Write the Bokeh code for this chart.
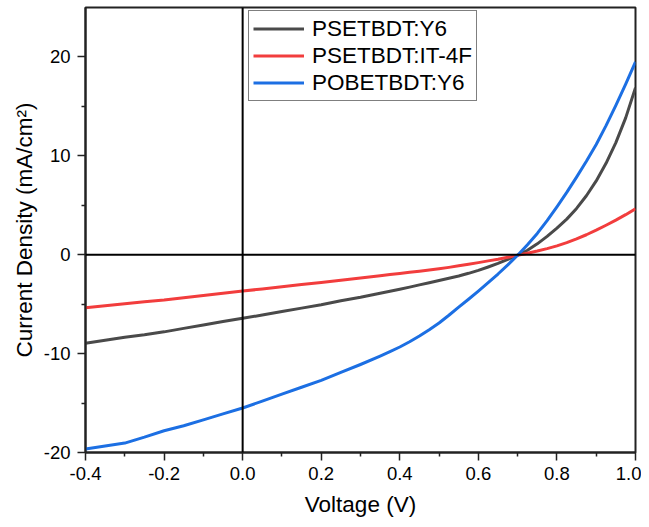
from bokeh.plotting import figure
from bokeh.models import Range1d, FixedTicker, Span, Legend, LegendItem
from bokeh.embed import file_html
from bokeh.resources import INLINE

voltage = [-0.40, -0.35, -0.30, -0.25, -0.20, -0.15, -0.10, -0.05, 0.00, 0.05,
           0.10, 0.15, 0.20, 0.25, 0.30, 0.35, 0.375, 0.40, 0.425, 0.45,
           0.475, 0.50, 0.525, 0.55, 0.575, 0.60, 0.625, 0.65, 0.675, 0.70,
           0.725, 0.75, 0.775, 0.80, 0.825, 0.85, 0.875, 0.90, 0.925, 0.95,
           0.975, 1.00]

psetbdt_y6 = [-8.95, -8.65, -8.35, -8.10, -7.80, -7.45, -7.10, -6.75, -6.43, -6.10,
              -5.75, -5.40, -5.05, -4.65, -4.30, -3.90, -3.70, -3.50, -3.28, -3.05,
              -2.83, -2.60, -2.38, -2.15, -1.88, -1.58, -1.24, -0.88, -0.48, -0.05,
              0.45, 1.10, 1.85, 2.70, 3.60, 4.68, 5.96, 7.46, 9.24, 11.34,
              13.84, 16.90]

psetbdt_it4f = [-5.36, -5.15, -4.95, -4.75, -4.58, -4.35, -4.12, -3.90, -3.68, -3.46,
                -3.24, -3.02, -2.80, -2.57, -2.35, -2.12, -2.01, -1.90, -1.78, -1.66,
                -1.54, -1.42, -1.28, -1.12, -0.96, -0.80, -0.62, -0.45, -0.25, -0.05,
                0.15, 0.37, 0.62, 0.90, 1.22, 1.60, 2.02, 2.48, 2.98, 3.50,
                4.05, 4.65]

pobetbdt_y6 = [-19.65, -19.35, -19.05, -18.45, -17.80, -17.30, -16.70, -16.10, -15.50, -14.80,
               -14.10, -13.40, -12.70, -11.90, -11.10, -10.25, -9.80, -9.33, -8.80, -8.22,
               -7.58, -6.90, -6.12, -5.30, -4.50, -3.68, -2.83, -1.95, -1.03, -0.05,
               1.00, 2.15, 3.45, 4.85, 6.30, 7.85, 9.45, 11.15, 13.05, 15.10,
               17.25, 19.50]

series_names = ["PSETBDT:Y6", "PSETBDT:IT-4F", "POBETBDT:Y6"]
series_colors = ["#4a4a4a", "#f23d3d", "#1c6fe3"]

x_major = [-0.4, -0.2, 0.0, 0.2, 0.4, 0.6, 0.8, 1.0]
x_minor = [-0.3, -0.1, 0.1, 0.3, 0.5, 0.7, 0.9]
y_major = [-20, -10, 0, 10, 20]
y_minor = [-15, -5, 5, 15]

FONT = "Liberation Sans"

p = figure(width=641, height=519, output_backend="svg", toolbar_location=None,
           x_range=Range1d(-0.4, 1.0), y_range=Range1d(-20, 25),
           min_border_left=85, min_border_right=6, min_border_top=7, min_border_bottom=67)

p.xgrid.visible = False
p.ygrid.visible = False
p.outline_line_color = "#222222"
p.outline_line_width = 2
p.outline_line_alpha = 1.0

p.xaxis.ticker = FixedTicker(ticks=x_major, minor_ticks=x_minor)
p.yaxis.ticker = FixedTicker(ticks=y_major, minor_ticks=y_minor)
p.xaxis.major_label_overrides = {v: f"{v:.1f}" for v in x_major}
p.yaxis.major_label_overrides = {v: f"{v}" for v in y_major}

for ax in (p.xaxis[0], p.yaxis[0]):
    ax.axis_line_width = 2
    ax.axis_line_color = "#222222"
    ax.major_tick_line_width = 1.5
    ax.minor_tick_line_width = 1.5
    ax.major_tick_line_color = "#222222"
    ax.minor_tick_line_color = "#222222"
    ax.major_tick_out = 8
    ax.major_tick_in = 0
    ax.minor_tick_out = 4
    ax.minor_tick_in = 0
    ax.major_label_text_font = FONT
    ax.major_label_text_font_size = "18.5px"
    ax.major_label_text_color = "black"
    ax.axis_label_text_font = FONT
    ax.axis_label_text_font_size = "22.5px"
    ax.axis_label_text_font_style = "normal"
    ax.axis_label_text_color = "black"

p.xaxis.axis_label = "Voltage (V)"
p.yaxis.axis_label = "Current Density (mA/cm²)"
p.xaxis.major_label_standoff = 6
p.yaxis.major_label_standoff = 7
p.xaxis.axis_label_standoff = 9
p.yaxis.axis_label_standoff = 4

p.add_layout(Span(location=0, dimension="width", line_color="black", line_width=2))
p.add_layout(Span(location=0, dimension="height", line_color="black", line_width=2))

renderers = []
for ys, col in zip([psetbdt_y6, psetbdt_it4f, pobetbdt_y6], series_colors):
    r = p.line(voltage, ys, line_color=col, line_width=3, line_join="round")
    renderers.append(r)

legend = Legend(items=[LegendItem(label=n, renderers=[r]) for n, r in zip(series_names, renderers)],
                location=(163, 351))
legend.label_text_font = FONT
legend.label_text_font_size = "22.5px"
legend.label_text_color = "black"
legend.glyph_width = 51
legend.glyph_height = 27
legend.label_height = 27
legend.label_standoff = 8
legend.spacing = 0
legend.padding = 4
legend.margin = 0
legend.border_line_color = "black"
legend.border_line_width = 1
legend.background_fill_color = "white"
legend.background_fill_alpha = 1.0
p.add_layout(legend, "center")

open("out.html", "w").write(file_html(p, INLINE))
